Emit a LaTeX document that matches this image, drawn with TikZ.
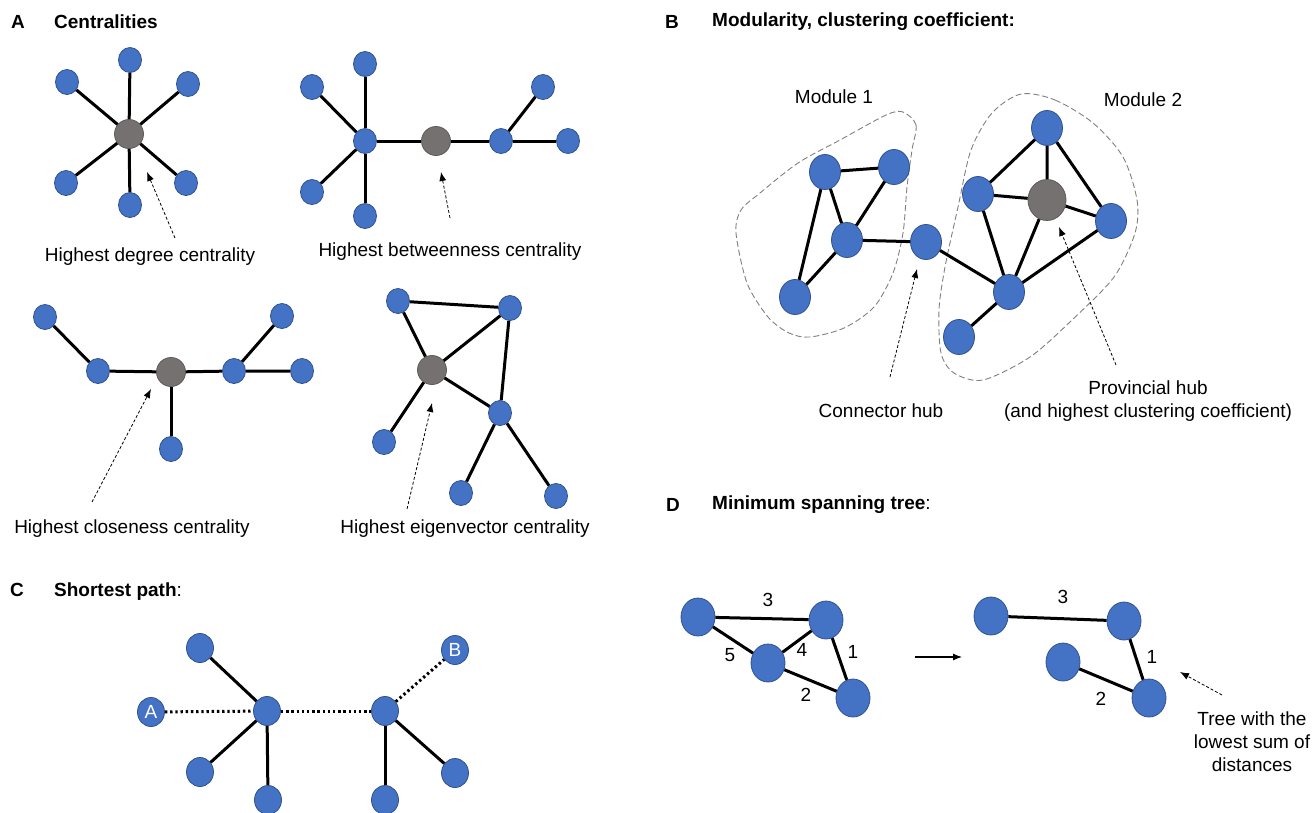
\documentclass[tikz,border=0pt]{standalone}
\usepackage{fontspec}
\setmainfont{Liberation Sans}
\usepackage{tikz}
\usetikzlibrary
  {
    arrows.meta,      % pointer tips
    shapes.geometric, % elliptic nodes
    calc,
  }

\definecolor{ndblue}{HTML}{4472C4}
\definecolor{ndline}{HTML}{2F528F}
\definecolor{hubgray}{HTML}{767171}
\definecolor{hubline}{HTML}{5E5A5A}
\definecolor{modline}{HTML}{808080}

\tikzset{
  nd/.style={ellipse, draw=ndline, fill=ndblue, line width=.8pt, inner sep=0pt,
    minimum width=23pt, minimum height=25pt},
  hub/.style={nd, draw=hubline, fill=hubgray, minimum width=29pt, minimum height=29pt},
  ndb/.style={nd, minimum width=31pt, minimum height=35pt},
  hubb/.style={hub, minimum width=38pt, minimum height=41pt},
  ndc/.style={nd, minimum width=27pt, minimum height=29pt},
  ndd/.style={nd, minimum width=34pt, minimum height=38pt},
  ln/.style={line width=3pt},
  sp/.style={line width=3pt, dash pattern=on 2.4pt off 2.8pt},
  ptr/.style={line width=.8pt, dash pattern=on 3pt off 2pt, -{Latex[length=9pt,width=7pt]}},
  mod/.style={draw=modline, line width=.9pt, dash pattern=on 6pt off 3pt},
  hd/.style={font=\fontsize{19}{23}\selectfont\bfseries, anchor=west, inner sep=0pt},
}

\begin{document}
\begin{tikzpicture}[x=1pt, y=-1pt, font=\fontsize{19}{23}\selectfont]
  \useasboundingbox (0,0) rectangle (1313,812);

  % A: centralities
  \node[hd] (ha) at (11,22) {A};
  \node[hd] (hat) at (54,22) {Centralities};

  \node[hub] (dc) at (129,134) {};
  \foreach \n/\x/\y in {t/130/60, ul/67/82, ur/188/84, ll/66/183, b/130/205, lr/186/183}
    {
      \node[nd] (d\n) at (\x,\y) {};
      \draw[ln] (dc) -- (d\n);
    }
  \coordinate (dp0) at (175,238);
  \coordinate (dp1) at (147,172);
  \draw[ptr] (dp0) -- (dp1);
  \node (dlab) at (150,257) {Highest degree centrality};

  \node[nd] (bh) at (365,141) {};
  \node[hub] (bc) at (436,141) {};
  \node[nd] (br) at (501,141) {};
  \draw[ln] (bh) -- (bc) -- (br);
  \foreach \n/\x/\y in {t/365/64, ul/312/87, ll/312/192, b/365/216}
    {
      \node[nd] (bh\n) at (\x,\y) {};
      \draw[ln] (bh) -- (bh\n);
    }
  \foreach \n/\x/\y in {e/568/141, ne/543/87}
    {
      \node[nd] (br\n) at (\x,\y) {};
      \draw[ln] (br) -- (br\n);
    }
  \coordinate (bp0) at (450,218);
  \coordinate (bp1) at (441,172);
  \draw[ptr] (bp0) -- (bp1);
  \node (blab) at (450,252) {Highest betweenness centrality};

  \node[hub] (cc) at (171,372) {};
  \node[nd] (cl) at (98,371) {};
  \node[nd] (cr) at (234,371) {};
  \node[nd] (cl1) at (45,317) {};
  \node[nd] (cr1) at (302,371) {};
  \node[nd] (cr2) at (282,316) {};
  \node[nd] (cb) at (171,449) {};
  \draw[ln] (cl1) -- (cl) -- (cc) -- (cr) -- (cr1);
  \draw[ln] (cr) -- (cr2);
  \draw[ln] (cc) -- (cb);
  \coordinate (cp0) at (92,502);
  \coordinate (cp1) at (151,389);
  \draw[ptr] (cp0) -- (cp1);
  \node (clab) at (132,529) {Highest closeness centrality};

  \node[hub] (ec) at (432,370) {};
  \node[nd] (etl) at (398,301) {};
  \node[nd] (etr) at (510,308) {};
  \node[nd] (em) at (500,413) {};
  \node[nd] (ell) at (384,442) {};
  \node[nd] (ebl) at (461,493) {};
  \node[nd] (ebr) at (556,496) {};
  \draw[ln] (etl) -- (etr) -- (em) -- (ebl);
  \draw[ln] (etl) -- (ec) -- (etr);
  \draw[ln] (ec) -- (em) -- (ebr);
  \draw[ln] (ec) -- (ell);
  \coordinate (ep0) at (407,509);
  \coordinate (ep1) at (432,403);
  \draw[ptr] (ep0) -- (ep1);
  \node (elab) at (465,529) {Highest eigenvector centrality};

  % B: modules
  \node[hd] (hb) at (665,22) {B};
  \node[hd] (hbt) at (712,22) {Modularity, clustering coefficient:};

  \draw[mod] plot[smooth cycle] coordinates {(903,112) (916,125) (912,150) (907,187)
    (903,233) (893,273) (874,307) (844,328) (810,337) (789,333) (768,317) (747,283)
    (736,233) (741,210) (760,193) (798,163) (840,140) (886,115)};
  \draw[mod] plot[smooth cycle] coordinates {(1021,94) (1055,100) (1093,123) (1123,157)
    (1137,200) (1135,233) (1114,277) (1072,320) (1030,357) (983,380) (954,373)
    (941,353) (939,310) (945,267) (958,207) (971,150) (992,113)};
  \node (m1) at (834,97) {Module 1};
  \node (m2) at (1143,100) {Module 2};

  \node[ndb] (ma) at (825,172) {};
  \node[ndb] (mb) at (894,167) {};
  \node[ndb] (mc) at (847,240) {};
  \node[ndb] (md) at (795,297) {};
  \node[ndb] (ch) at (926,242) {};
  \node[ndb] (pt) at (1047,128) {};
  \node[ndb] (pl) at (978,194) {};
  \node[hubb] (pc) at (1047,200) {};
  \node[ndb] (pr) at (1111,221) {};
  \node[ndb] (pb) at (1009,292) {};
  \node[ndb] (pd) at (959,337) {};
  \draw[ln] (ma) -- (mb) -- (mc) -- (ma) -- (md) -- (mc) -- (ch) -- (pb) -- (pd);
  \draw[ln] (pl) -- (pt) -- (pr) -- (pb) -- (pl) -- (pc) -- (pr);
  \draw[ln] (pt) -- (pc) -- (pb);
  \coordinate (hp0) at (890,377);
  \coordinate (hp1) at (917,269);
  \draw[ptr] (hp0) -- (hp1);
  \node (hlab) at (881,411) {Connector hub};
  \coordinate (pp0) at (1116,365);
  \coordinate (pp1) at (1059,227);
  \draw[ptr] (pp0) -- (pp1);
  \node[align=center] (plab) at (1148,401) {Provincial hub\\(and highest clustering coefficient)};

  % C: shortest path
  \node[hd] (hc) at (10,590) {C};
  \node[hd] (hct) at (54,592) {Shortest path\mdseries:};

  \node[ndc, text=white] (sa) at (151,712) {A};
  \node[ndc, text=white] (sb) at (455,650) {B};
  \node[ndc] (s1) at (267,711) {};
  \node[ndc] (s2) at (385,711) {};
  \foreach \n/\x/\y in {t/200/648, ll/200/772, b/268/800}
    {
      \node[ndc] (s1\n) at (\x,\y) {};
      \draw[ln] (s1) -- (s1\n);
    }
  \foreach \n/\x/\y in {b/385/800, lr/455/773}
    {
      \node[ndc] (s2\n) at (\x,\y) {};
      \draw[ln] (s2) -- (s2\n);
    }
  \draw[sp] (sa) -- (s1);
  \draw[sp] (s1) -- (s2);
  \draw[sp] (s2) -- (sb);

  % D: minimum spanning tree
  \node[hd] (hd) at (666,505) {D};
  \node[hd] (hdt) at (712,505) {Minimum spanning tree\mdseries:};

  \node[ndd] (n1) at (698,617) {};
  \node[ndd] (n2) at (826,620) {};
  \node[ndd] (n3) at (768,663) {};
  \node[ndd] (n4) at (853,698) {};
  \draw[ln] (n1) -- (n2) -- (n4) -- (n3) -- (n1);
  \draw[ln] (n3) -- (n2);
  \node (w3) at (768,600) {3};
  \node (w5) at (730,655) {5};
  \node (w4) at (802,650) {4};
  \node (w1) at (853,652) {1};
  \node (w2) at (806,695) {2};

  \coordinate (ar0) at (915,657);
  \coordinate (ar1) at (962,657);
  \draw[line width=1.1pt, -{Latex[length=9pt,width=7pt]}] (ar0) -- (ar1);

  \node[ndd] (t1) at (991,616) {};
  \node[ndd] (t2) at (1124,621) {};
  \node[ndd] (t3) at (1063,662) {};
  \node[ndd] (t4) at (1149,698) {};
  \draw[ln] (t1) -- (t2) -- (t4) -- (t3);
  \node (v3) at (1063,597) {3};
  \node (v1) at (1152,657) {1};
  \node (v2) at (1101,699) {2};
  \coordinate (tp0) at (1222,695);
  \coordinate (tp1) at (1180,672);
  \draw[ptr] (tp0) -- (tp1);
  \node[align=center] (tlab) at (1252,742) {Tree with the\\lowest sum of\\distances};
\end{tikzpicture}
\end{document}
